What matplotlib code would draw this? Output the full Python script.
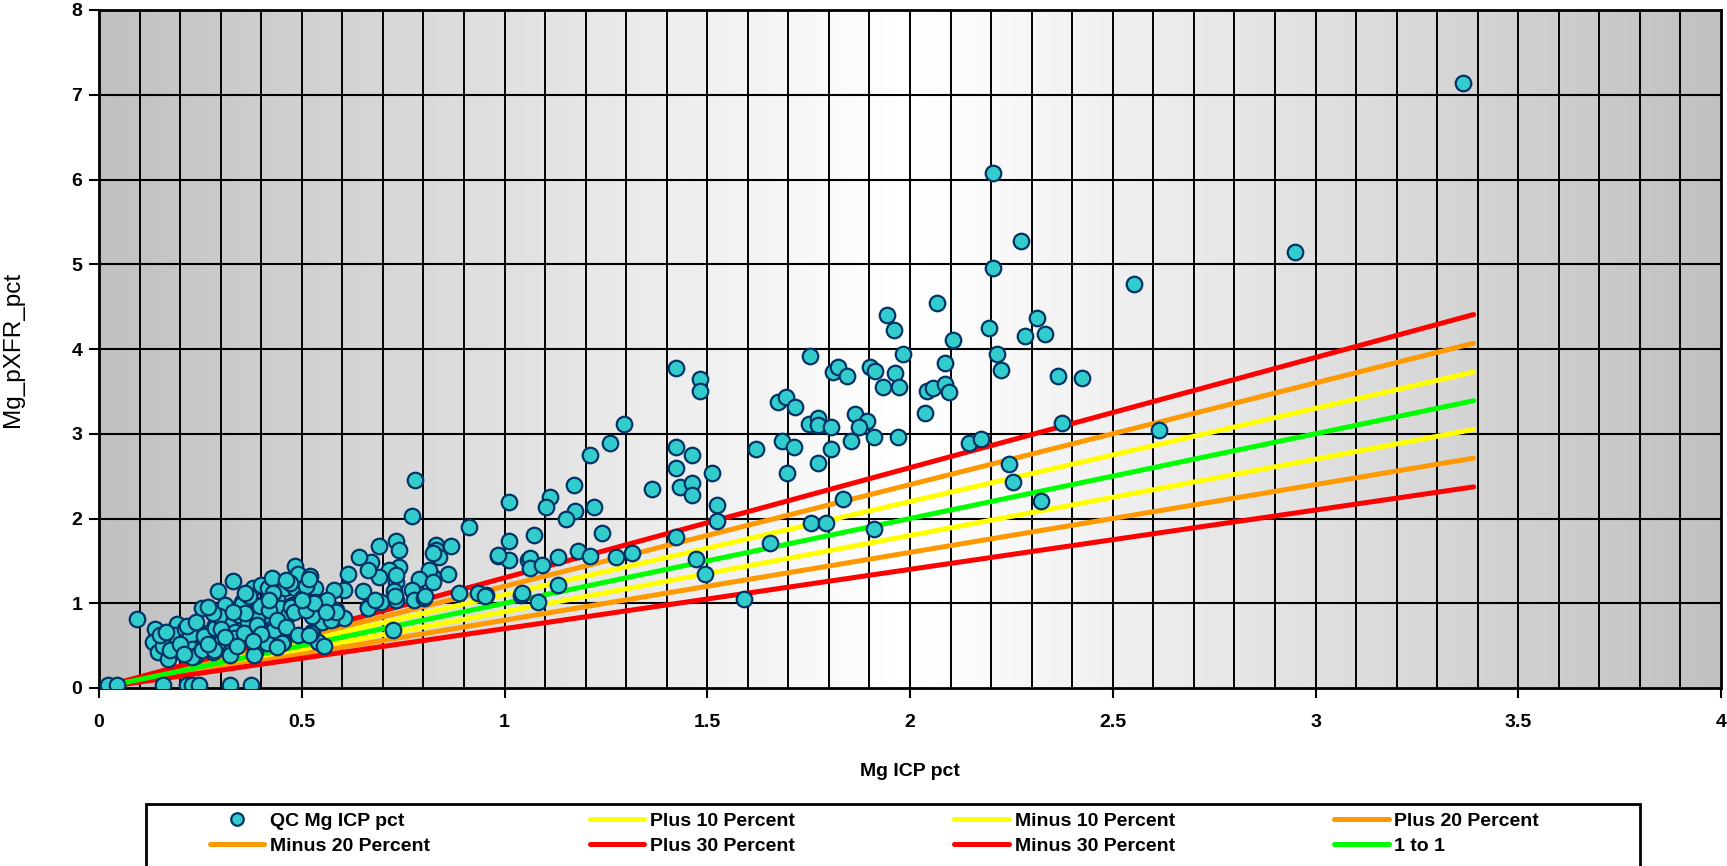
import numpy as np
import matplotlib.pyplot as plt
from matplotlib.lines import Line2D
from matplotlib.patches import Rectangle

# QC pairs: ICP value (x) and pXRF value (y)
icp_pct = [
    0.021, 0.044, 0.159, 0.217, 0.229, 0.246, 0.324, 0.375,
    0.093, 0.138, 0.142, 0.134, 0.146, 0.171, 0.159, 0.192, 0.196, 0.188,
    0.212, 0.225, 0.229, 0.237, 0.253, 0.262, 0.253, 0.274, 0.286, 0.294,
    0.282, 0.300, 0.310, 0.320, 0.323, 0.331, 0.335, 0.345, 0.352, 0.356,
    0.368, 0.377, 0.380, 0.385, 0.393, 0.397, 0.400, 0.410, 0.414, 0.418,
    0.426, 0.434, 0.438, 0.447, 0.454, 0.459, 0.467, 0.475, 0.484, 0.484,
    0.490, 0.500, 0.520, 0.525, 0.525, 0.533, 0.533, 0.540, 0.550,
    0.176, 0.217, 0.229, 0.254, 0.258, 0.283, 0.287, 0.295, 0.324, 0.332,
    0.357, 0.353, 0.382, 0.390, 0.398, 0.415, 0.431, 0.452, 0.473, 0.522,
    0.526, 0.555, 0.580, 0.605, 0.663, 0.724, 0.696,
    0.150, 0.165, 0.200, 0.210, 0.240, 0.270, 0.280, 0.300, 0.310, 0.340,
    0.360, 0.370, 0.390, 0.400, 0.420, 0.430, 0.440, 0.460, 0.470, 0.480,
    0.490, 0.510, 0.510, 0.460, 0.420, 0.360, 0.330, 0.270, 0.440, 0.380,
    0.780, 0.773, 0.913, 1.012, 1.012, 0.983, 1.012, 1.057, 1.040, 0.954,
    0.934, 0.888, 0.831, 0.831, 0.839, 0.868, 0.860, 0.823, 0.815, 0.790,
    0.773, 0.777, 0.802, 0.732, 0.740, 0.740, 0.732, 0.728, 0.732, 0.716,
    0.691, 0.691, 0.672, 0.663, 0.642, 0.650, 0.663, 0.680, 0.613, 0.605,
    0.580, 0.584, 0.563, 0.530, 0.518, 0.518, 0.500, 0.572, 0.585, 0.561,
    0.823, 0.803, 0.823, 0.729, 0.733,
    1.424, 1.483, 1.483, 1.294, 1.259, 1.212, 1.424, 1.463, 1.512, 1.424,
    1.432, 1.463, 1.463, 1.364, 1.171, 1.113, 1.103, 1.173, 1.152, 1.220,
    1.523, 1.523, 1.424, 1.241, 1.072, 0.984, 1.062, 1.062, 1.093, 1.133,
    1.181, 1.212, 1.276, 1.315, 1.473, 1.494, 1.133, 1.044, 1.082, 0.953,
    1.591, 1.654, 1.620, 1.685, 1.715, 1.696, 1.774, 1.804, 1.675, 1.695,
    1.716, 1.753, 1.751, 1.774, 1.774, 1.804, 1.854, 1.864, 1.893, 1.874,
    1.912, 1.971, 1.811, 1.823, 1.844, 1.901, 1.914, 1.963, 1.933, 1.974,
    1.982, 1.961, 1.834, 1.755, 1.794, 1.912, 2.037, 2.041,
    2.205, 2.274, 2.205, 2.553, 2.950, 2.067, 1.944, 2.106, 2.196, 2.313,
    2.283, 2.334, 2.214, 2.224, 2.086, 2.057, 2.086, 2.097, 2.366, 2.425,
    2.376, 2.613, 2.146, 2.175, 2.245, 2.254, 2.323, 3.363,
]
pxrf_pct = [
    0.03, 0.03, 0.03, 0.03, 0.03, 0.03, 0.03, 0.03,
    0.82, 0.70, 0.50, 0.54, 0.42, 0.34, 0.50, 0.76, 0.58, 0.62,
    0.70, 0.62, 0.46, 0.38, 0.94, 0.58, 0.46, 0.66, 0.74, 1.14,
    0.42, 0.54, 0.98, 0.78, 0.42, 1.26, 0.66, 0.86, 1.02, 0.62,
    0.78, 0.94, 1.18, 0.42, 0.98, 0.70, 1.22, 0.86, 0.58, 1.18,
    1.30, 0.70, 1.06, 0.94, 0.54, 1.18, 0.86, 0.98, 1.44, 1.18,
    1.34, 1.06, 1.32, 0.86, 0.66, 1.18, 1.02, 0.54, 0.78,
    0.45, 0.73, 0.37, 0.45, 0.61, 0.45, 0.71, 0.85, 0.39, 0.59,
    0.65, 0.99, 0.39, 0.81, 0.97, 0.53, 0.69, 0.53, 0.95, 0.65,
    0.85, 0.49, 0.81, 0.83, 0.95, 0.69, 1.01,
    0.62, 0.66, 0.52, 0.40, 0.78, 0.52, 0.88, 0.70, 0.60, 0.50,
    0.88, 1.08, 0.74, 0.64, 0.92, 1.12, 0.80, 0.72, 1.24, 0.90,
    0.62, 1.20, 0.92, 1.28, 1.04, 1.12, 0.90, 0.95, 0.48, 0.56,
    2.45, 2.03, 1.90, 2.20, 1.73, 1.56, 1.51, 1.51, 1.10, 1.10,
    1.12, 1.12, 1.69, 1.63, 1.55, 1.67, 1.35, 1.31, 1.39, 1.29,
    1.16, 1.04, 1.06, 1.73, 1.63, 1.43, 1.25, 1.14, 1.04, 1.39,
    1.67, 1.31, 1.49, 1.39, 1.55, 1.14, 0.94, 1.04, 1.35, 1.16,
    1.16, 0.92, 1.04, 1.00, 1.29, 0.63, 1.04, 0.80, 0.90, 0.90,
    1.25, 1.08, 1.59, 1.08, 1.33,
    3.77, 3.65, 3.51, 3.11, 2.89, 2.75, 2.84, 2.75, 2.54, 2.59,
    2.37, 2.42, 2.28, 2.35, 2.40, 2.25, 2.13, 2.09, 1.99, 2.13,
    2.16, 1.97, 1.78, 1.83, 1.80, 1.57, 1.53, 1.42, 1.45, 1.54,
    1.62, 1.56, 1.54, 1.59, 1.52, 1.35, 1.21, 1.12, 1.01, 1.09,
    1.05, 1.71, 2.82, 2.91, 2.84, 2.54, 2.65, 2.82, 3.37, 3.43,
    3.32, 3.92, 3.11, 3.18, 3.10, 3.08, 2.92, 3.23, 3.15, 3.08,
    2.96, 2.96, 3.73, 3.79, 3.68, 3.79, 3.74, 3.72, 3.55, 3.55,
    3.94, 4.23, 2.23, 1.95, 1.95, 1.88, 3.24, 3.51,
    6.08, 5.27, 4.96, 4.77, 5.15, 4.54, 4.40, 4.11, 4.25, 4.37,
    4.15, 4.18, 3.94, 3.75, 3.83, 3.54, 3.59, 3.49, 3.68, 3.66,
    3.13, 3.04, 2.89, 2.94, 2.64, 2.43, 2.21, 7.14,
]

# reference lines: y = factor * ICP over the ICP range
line_x = np.array([0.0, 3.39])
line_names = ['Plus 10 Percent', 'Minus 10 Percent', 'Plus 20 Percent', 'Minus 20 Percent',
              'Plus 30 Percent', 'Minus 30 Percent', '1 to 1']
line_factors = [1.1, 0.9, 1.2, 0.8, 1.3, 0.7, 1.0]
line_colors = ['#FFFF00', '#FFFF00', '#FF9900', '#FF9900', '#FF0000', '#FF0000', '#00FF00']

plt.rcParams['font.family'] = ['Liberation Sans', 'DejaVu Sans']

W, H = 1727, 866
fig = plt.figure(figsize=(W / 100, H / 100), dpi=100)
ax = fig.add_axes([99 / W, (H - 688) / H, 1622 / W, 678 / H])

# grey -> white -> grey background
gx = np.linspace(0, 4, 400)
shade = 0.753 + (1 - 0.753) * (1 - np.abs(gx - 2) / 2)
ax.imshow(shade[np.newaxis, :], extent=[0, 4, 0, 8], aspect='auto', cmap='gray',
          vmin=0, vmax=1, zorder=0, interpolation='bilinear')

for xv in np.arange(0.1, 4.0, 0.1):
    ax.axvline(xv, color='black', lw=1.4, zorder=1)
for yv in range(1, 8):
    ax.axhline(yv, color='black', lw=1.5, zorder=1)

handles = {}
for name, f, c in zip(line_names, line_factors, line_colors):
    handles[name], = ax.plot(line_x, line_x * f, color=c, lw=3.6, zorder=2,
                             solid_capstyle='round', label=name)

ax.scatter(icp_pct, pxrf_pct, s=125, facecolor='#33CCCC', edgecolor='#003366',
           linewidth=1.6, zorder=3)
handles['QC Mg ICP pct'] = Line2D([], [], marker='o', ls='none', markersize=9,
                                  markerfacecolor='#33CCCC', markeredgecolor='#003366',
                                  markeredgewidth=1.6)

ax.set_xlim(0, 4)
ax.set_ylim(0, 8)
ax.set_xticks([0, 0.5, 1, 1.5, 2, 2.5, 3, 3.5, 4])
ax.set_xticklabels(['0', '0.5', '1', '1.5', '2', '2.5', '3', '3.5', '4'])
ax.set_yticks(range(0, 9))
ax.tick_params(direction='out', length=7, width=1.5, labelsize=14)
ax.tick_params(axis='x', pad=12)
ax.tick_params(axis='y', pad=5)
for lab in ax.get_xticklabels() + ax.get_yticklabels():
    lab.set_fontweight('bold')
for sp in ax.spines.values():
    sp.set_linewidth(2)

ax.set_xlabel('Mg ICP pct', fontsize=14, fontweight='bold')
ax.xaxis.set_label_coords(0.5, -(763 - 688) / 678)
ax.set_ylabel('Mg_pXFR_pct', fontsize=17.5)
ax.yaxis.set_label_coords(-(99 - 24) / 1622, 0.5)

# legend box drawn separately so the entries can sit where they do in the original
fig.patches.append(Rectangle((146 / W, -0.01), (1640 - 146) / W, (866 - 804) / H + 0.01,
                             transform=fig.transFigure, facecolor='white',
                             edgecolor='black', lw=2, zorder=0))

# legend order is column-major for 2 rows x 4 columns
order = ['QC Mg ICP pct', 'Minus 20 Percent', 'Plus 10 Percent', 'Plus 30 Percent',
         'Minus 10 Percent', 'Minus 30 Percent', 'Plus 20 Percent', '1 to 1']
leg = fig.legend([handles[k] for k in order], order, loc='upper left',
                 bbox_to_anchor=(210 / W, 1 - 812 / H), ncol=4, frameon=False,
                 prop={'weight': 'bold', 'size': 14}, handlelength=2.8,
                 handletextpad=0.3, borderpad=0, borderaxespad=0,
                 labelspacing=0.4, columnspacing=8.2)

fig.savefig('out.png', dpi=100)
